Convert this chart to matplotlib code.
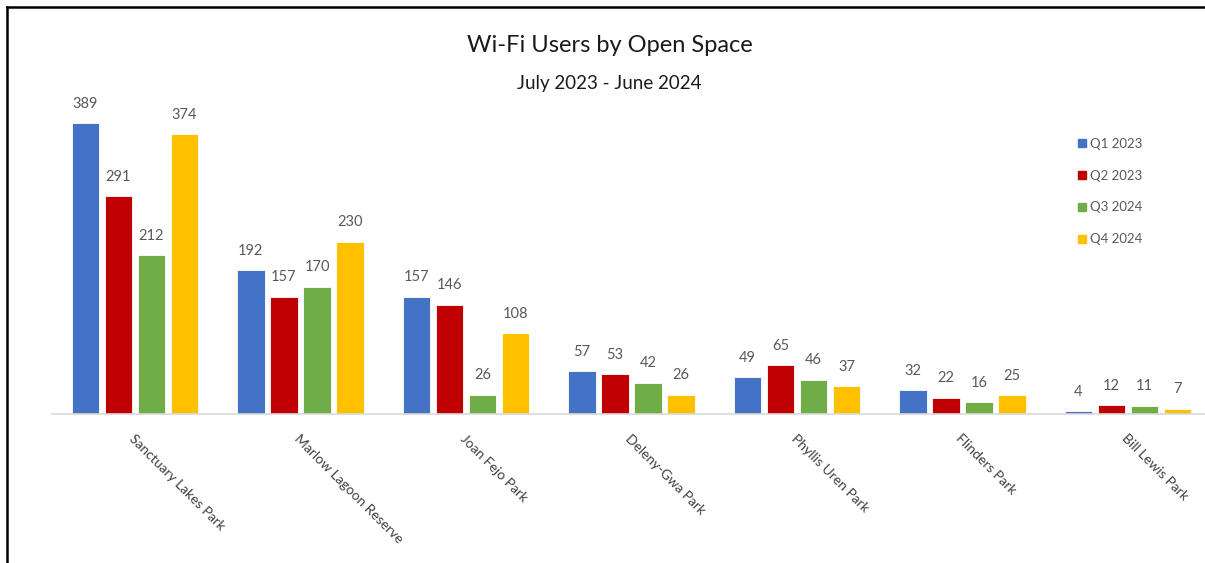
import numpy as np
import matplotlib.pyplot as plt
from matplotlib.lines import Line2D

plt.rcParams['font.family'] = ['Lato', 'DejaVu Sans']

parks = ['Sanctuary Lakes Park', 'Marlow Lagoon Reserve', 'Joan Fejo Park',
         'Deleny-Gwa Park', 'Phyllis Uren Park', 'Flinders Park', 'Bill Lewis Park']
series = ['Q1 2023', 'Q2 2023', 'Q3 2024', 'Q4 2024']
q1 = [389, 192, 157, 57, 49, 32, 4]
q2 = [291, 157, 146, 53, 65, 22, 12]
q3 = [212, 170, 26, 42, 46, 16, 11]
q4 = [374, 230, 108, 26, 37, 25, 7]
colors = ['#4472C4', '#C00000', '#70AD47', '#FFC000']

fig = plt.figure(figsize=(12.05, 5.63), dpi=100)
ax = fig.add_axes([52.25 / 1205, 149 / 563, 1158.5 / 1205, 374 / 563])

x = np.arange(len(parks))
pitch = 0.2
width = 0.165
for i, (vals, name, c) in enumerate(zip([q1, q2, q3, q4], series, colors)):
    bars = ax.bar(x + (i - 1.5) * pitch, vals, width, color=c, label=name,
                  edgecolor='#ffffff', linewidth=0.6)
    ax.bar_label(bars, padding=9, fontsize=10.5, color='#595959')

ax.set_xlim(-0.5, len(parks) - 0.5)
ax.set_ylim(0, 500)
ax.set_yticks([])
ax.set_xticks(x)
ax.set_xticklabels(parks, rotation=-45, ha='left', va='top',
                   rotation_mode='anchor', fontsize=10, color='#404040')
ax.tick_params(axis='x', length=0, pad=13)
for s in ['top', 'right', 'left']:
    ax.spines[s].set_visible(False)
ax.spines['bottom'].set_color('#d9d9d9')
ax.spines['bottom'].set_linewidth(1.2)

# legend as small squares
handles = [Line2D([], [], marker='s', linestyle='none', markersize=6,
                  color=c) for c in colors]
fig.legend(handles, series, loc='upper left', bbox_to_anchor=(1064 / 1205, 1 - 126 / 563),
           frameon=False, fontsize=9.5, labelcolor='#595959', handletextpad=0.1,
           labelspacing=1.5, handlelength=1.0)

fig.text(0.506, 1 - 46 / 563, 'Wi-Fi Users by Open Space', ha='center', va='center',
         fontsize=17, color='#1a1a1a')
fig.text(0.506, 1 - 84 / 563, 'July 2023 - June 2024', ha='center', va='center',
         fontsize=13.5, color='#1a1a1a')

# frame lines (left and top)
fig.add_artist(Line2D([7 / 1205, 7 / 1205], [0, 1 - 7 / 563], color='black', linewidth=1.8))
fig.add_artist(Line2D([7 / 1205, 1], [1 - 7 / 563, 1 - 7 / 563], color='black', linewidth=1.8))

fig.savefig('out.png', dpi=100)
